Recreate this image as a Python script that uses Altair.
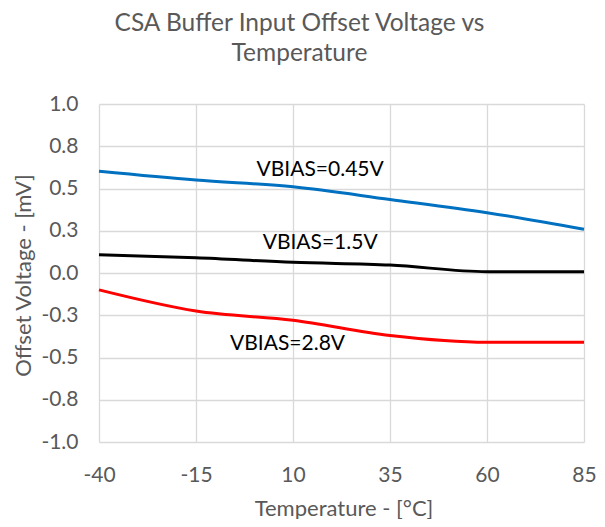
import altair as alt
import pandas as pd

temps = [-40, -15, 10, 35, 60, 85]
vbias_045 = [0.602, 0.55, 0.51, 0.435, 0.357, 0.259]
vbias_15 = [0.108, 0.09, 0.063, 0.047, 0.008, 0.008]
vbias_28 = [-0.10, -0.225, -0.28, -0.37, -0.41, -0.41]

series_names = ["VBIAS=0.45V", "VBIAS=1.5V", "VBIAS=2.8V"]
series_colors = ["#0070C0", "#000000", "#FF0000"]

label_x = [17.0, 17.0, 8.6]
label_y = [0.608, 0.175, -0.418]

x_ticks = [-40, -15, 10, 35, 60, 85]
y_ticks = [-1.0, -0.75, -0.5, -0.25, 0.0, 0.25, 0.5, 0.75, 1.0]

rows = []
for name, vals in zip(series_names, [vbias_045, vbias_15, vbias_28]):
    for t, v in zip(temps, vals):
        rows.append({"series": name, "temp": t, "offset": v})
df = pd.DataFrame(rows)
labels_df = pd.DataFrame({"series": series_names, "temp": label_x, "offset": label_y})

FONT = "Lato"
GRAY = "#595959"
W, H = 485, 338

x_scale = alt.Scale(domain=[-40, 85], nice=False, zero=False)
y_scale = alt.Scale(domain=[-1.0, 1.0], nice=False)

x_axis = alt.Axis(
    values=x_ticks, grid=True, gridColor="#d9d9d9", gridWidth=1.3,
    domain=False, ticks=False, tickSize=0, labelPadding=33, labelBaseline="middle",
    labelExpr="replace(format(datum.value, 'd'), '\u2212', '-')",
    labelFont=FONT, labelFontSize=21, labelColor=GRAY,
    title="Temperature - [°C]", titleFont=FONT, titleFontSize=22, titleFontWeight="normal",
    titleColor=GRAY, titleX=W / 2 + 2, titleY=73, titleBaseline="alphabetic", titleAlign="center",
    labelFlush=False,
)
y_axis = alt.Axis(
    values=y_ticks, grid=True, gridColor="#d9d9d9", gridWidth=1.3,
    domain=False, ticks=False, tickSize=0, labelPadding=21,
    labelExpr="replace(format(datum.value, '.1f'), '\u2212', '-')",
    labelFont=FONT, labelFontSize=21, labelColor=GRAY,
    title="Offset Voltage - [mV]", titleFont=FONT, titleFontSize=22, titleFontWeight="normal",
    titleColor=GRAY, titleX=-69, titleY=H / 2 + 2, titleBaseline="alphabetic", titleAlign="center",
    titleAngle=270, labelFlush=False,
)

lines = alt.Chart(df).mark_line(strokeWidth=3, interpolate="monotone").encode(
    x=alt.X("temp:Q", scale=x_scale, axis=x_axis),
    y=alt.Y("offset:Q", scale=y_scale, axis=y_axis),
    color=alt.Color("series:N", scale=alt.Scale(domain=series_names, range=series_colors), legend=None),
)

texts = alt.Chart(labels_df).mark_text(
    font=FONT, fontSize=21, color="#000000", align="center", baseline="middle"
).encode(
    x=alt.X("temp:Q", scale=x_scale),
    y=alt.Y("offset:Q", scale=y_scale),
    text="series:N",
)

chart = alt.layer(lines, texts).properties(
    width=W,
    height=H,
    autosize=alt.AutoSizeParams(type="none"),
    padding={"left": 91, "top": 96, "right": 13, "bottom": 77},
    title=alt.TitleParams(
        text=["CSA Buffer Input Offset Voltage vs", "Temperature"],
        font=FONT, fontSize=24.5, fontWeight="normal", color=GRAY,
        lineHeight=30, anchor="middle", dx=-42, offset=27,
    ),
).configure_view(stroke=None)

chart.save("out.html", embed_options={"renderer": "svg", "actions": False})
